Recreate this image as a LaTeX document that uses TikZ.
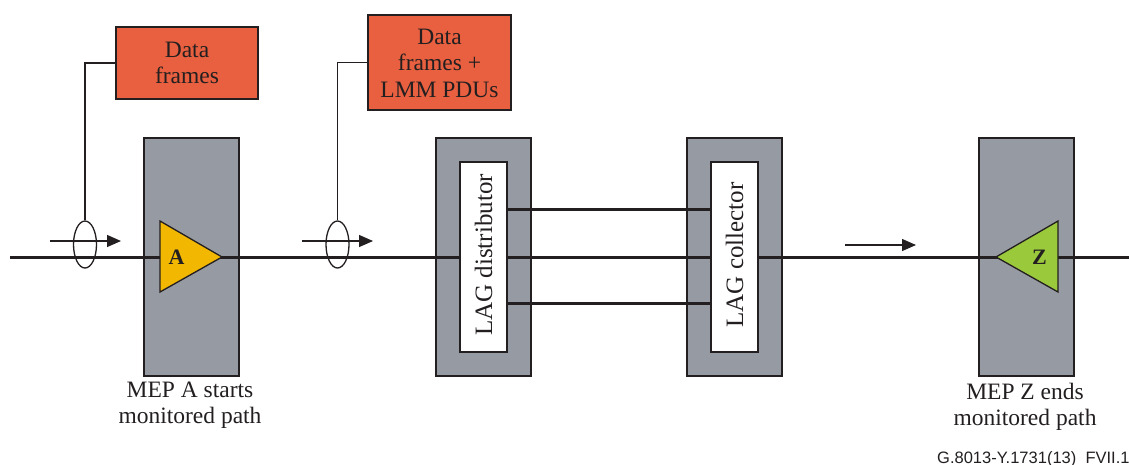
\documentclass[tikz,border=0pt]{standalone}
\usepackage{fontspec}
\setmainfont{Liberation Serif}
\setsansfont{Liberation Sans}
\usetikzlibrary{shapes.geometric,arrows.meta,calc}
\definecolor{ink}{HTML}{231F20}
\definecolor{mepgray}{HTML}{969AA2}
\definecolor{orangebox}{HTML}{E8603F}
\definecolor{ayellow}{HTML}{F2B700}
\definecolor{zgreen}{HTML}{9ACA3C}
\begin{document}
\begin{tikzpicture}[x=1pt,y=-1pt,
  txt/.style={font=\fontsize{23.5}{26.5}\selectfont, text=ink, align=center, inner sep=0pt},
  graybox/.style={draw=ink, line width=1.3, fill=mepgray, minimum width=95, minimum height=238, inner sep=0pt},
  whitebox/.style={draw=ink, line width=1.3, fill=white, minimum width=47, minimum height=190, inner sep=0pt},
  framebox/.style={draw=ink, line width=1.3, fill=orangebox, inner sep=0pt},
  tap/.style={draw=ink, line width=1.3, ellipse, minimum width=23, minimum height=47, inner sep=0pt},
  thin/.style={draw=ink, line width=1.3},
  link/.style={draw=ink, line width=3},
  flow/.style={draw=ink, line width=1.3, -{Triangle[length=14,width=12]}},
  tri/.style={draw=ink, line width=1.3},
  meplabel/.style={font=\bfseries\fontsize{22}{24}\selectfont, text=ink, inner sep=0pt}
]
\useasboundingbox (0,0) rectangle (1129,464);

% gray MEP / LAG boxes
\node[graybox] (boxA) at (191.5,257) {};
\node[graybox] (lagD) at (483.5,257) {};
\node[graybox] (lagC) at (734.5,257) {};
\node[graybox] (boxZ) at (1026.5,257) {};

% inner white LAG boxes
\node[whitebox] (lagDi) at (483.5,257) {};
\node[whitebox] (lagCi) at (734.5,257) {};
\node[txt, font=\fontsize{25}{27}\selectfont, rotate=90] (lagDt) at (483.5,255) {LAG distributor};
\node[txt, font=\fontsize{25}{27}\selectfont, rotate=90] (lagCt) at (734.5,255) {LAG collector};

% main line
\coordinate (start) at (10,257);
\coordinate (finish) at (1129,257);
\draw[link] (start) -- (lagDi.west);
\draw[link] ($(lagDi.east)+(0,-48)$) -- ($(lagCi.west)+(0,-48)$);
\draw[link] (lagDi.east) -- (lagCi.west);
\draw[link] ($(lagDi.east)+(0,46)$) -- ($(lagCi.west)+(0,46)$);
\draw[link] (lagCi.east) -- (finish);

% MEP triangles
\coordinate (aT) at (160,221);
\coordinate (aB) at (160,292);
\coordinate (aP) at (222,257);
\filldraw[tri, fill=ayellow] (aT) -- (aP) -- (aB) -- cycle;
\node[meplabel] (aLab) at (176.5,257.5) {A};

\coordinate (zT) at (1058,221);
\coordinate (zB) at (1058,292);
\coordinate (zP) at (996,257);
\filldraw[tri, fill=zgreen] (zT) -- (zP) -- (zB) -- cycle;
\node[meplabel] (zLab) at (1039.5,257.5) {Z};

% orange frame boxes
\node[framebox, minimum width=142, minimum height=72] (df1) at (187,63) {};
\node[txt] (df1t) at (187,63) {Data\\frames};
\node[framebox, minimum width=143, minimum height=95] (df2) at (439.5,62.5) {};
\node[txt] (df2t) at (439.5,63) {Data\\frames +\\LMM PDUs};

% tap ellipses
\node[tap] (e1) at (85,244.5) {};
\node[tap] (e2) at (337.5,244.5) {};
\draw[thin] (e1.north) |- (df1.west);
\draw[thin] (e2.north) |- (df2.west);

% flow arrows
\coordinate (f1s) at (50,241);
\coordinate (f1e) at (121,241);
\coordinate (f2s) at (302,241);
\coordinate (f2e) at (373,241);
\coordinate (f3s) at (845,245);
\coordinate (f3e) at (916,245);
\draw[flow] (f1s) -- (f1e);
\draw[flow] (f2s) -- (f2e);
\draw[flow] (f3s) -- (f3e);

% labels
\node[txt] (labA) at (190,405) {MEP A starts\\monitored path};
\node[txt] (labZ) at (1025,407) {MEP Z ends\\monitored path};
\node[font=\sffamily\fontsize{16.5}{18}\selectfont, text=ink, anchor=base west, inner sep=0pt] (code) at (937,463) {G.8013-Y.1731(13)\_FVII.1};
\end{tikzpicture}
\end{document}
